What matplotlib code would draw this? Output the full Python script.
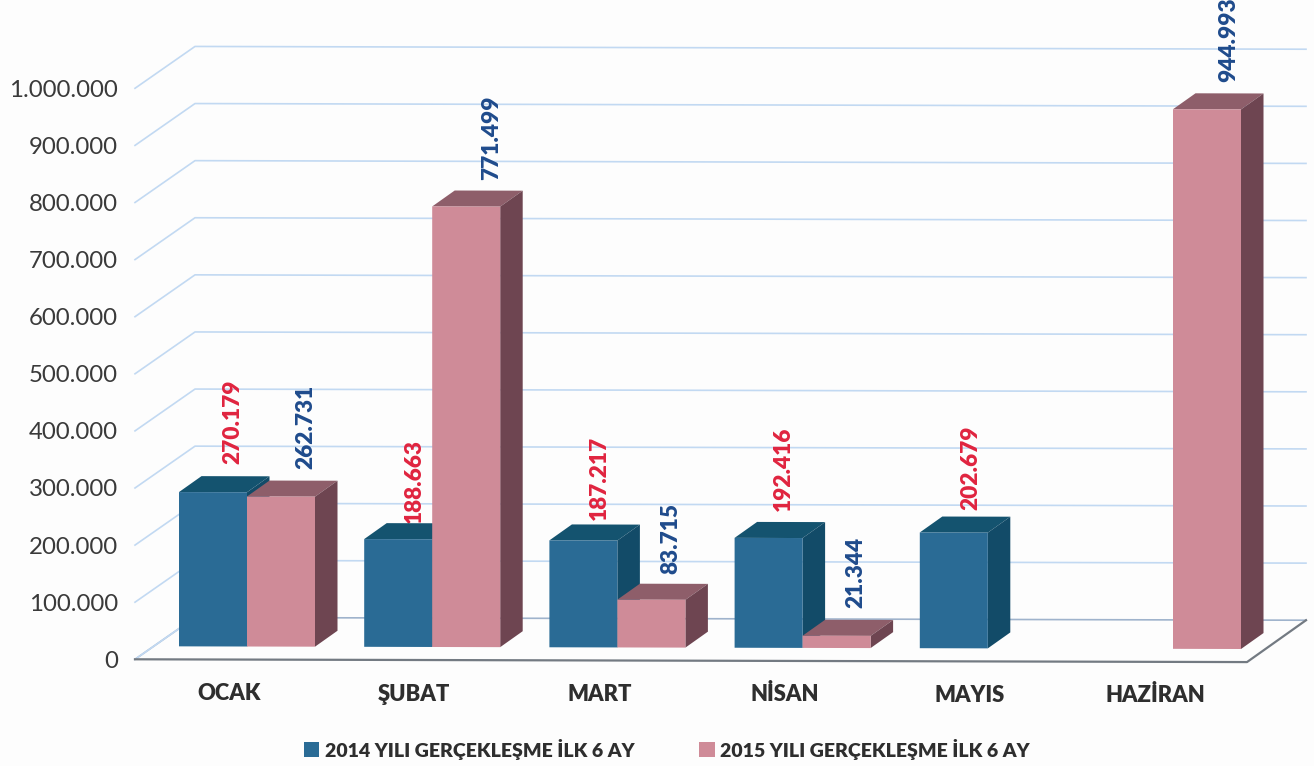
import numpy as np
import matplotlib
matplotlib.use("Agg")
import matplotlib.pyplot as plt
from matplotlib.transforms import Affine2D

plt.rcParams['font.family'] = ['Lato', 'DejaVu Sans']

months = ['OCAK', 'ŞUBAT', 'MART', 'NİSAN', 'MAYIS', 'HAZİRAN']
values_2014 = [270179, 188663, 187217, 192416, 202679, 0]
values_2015 = [262731, 771499, 83715, 21344, 0, 944993]
ticks = list(range(0, 1000001, 100000))
series_2014 = '2014 YILI GERÇEKLEŞME İLK 6 AY'
series_2015 = '2015 YILI GERÇEKLEŞME İLK 6 AY'

# label nudges in pixels, the original placed these by hand
offs_2014 = [(20, 28), (16, 16), (16, 20), (15, 27), (17, 23), (0, 0)]
offs_2015 = [(25, 28), (25, 27), (19, 26), (19, 28), (0, 0), (22, 27)]

W, H = 1314, 766
px_x = 185.2             # pixels per category
px_y = 0.000571          # pixels per unit
x0_px, y0_px = 247, 645.9

fig = plt.figure(figsize=(W / 100, H / 100), dpi=100, facecolor='#fdfdfd')
ax = fig.add_axes([0, 0, 1, 1])
ax.set_xlim(-x0_px / px_x, (W - x0_px) / px_x)
ax.set_ylim(-(H - y0_px) / px_y, y0_px / px_y)
ax.axis('off')

# the scan is slightly rotated, lines run downhill to the right
tr = ax.transData + Affine2D().skew(0, -0.0025)

bar_w = 68 / px_x
dx, dy = 22.5 / px_x, 16 / px_y

# walls and floor
wall_x0 = -112 / px_x
wall_x1 = wall_x0 + 60 / px_x
wall_dy = 42 / px_y
floor_v = -13.06 / px_y
right_x0 = wall_x0 + 1112 / px_x
right_x1 = wall_x1 + 1111 / px_x

for t in ticks:
    v = floor_v + t
    c = '#9fb3cc' if t == 0 else '#c2d9f2'
    ax.plot([wall_x0, wall_x1, right_x1], [v, v + wall_dy, v + wall_dy], color=c,
            lw=1.2, transform=tr, zorder=1)
    ax.annotate(f'{t:,}'.replace(',', '.'), (wall_x0, v), xycoords=tr, xytext=(-17, -2),
                textcoords='offset pixels', ha='right', va='center', fontsize=17.3, color='#3a3a3a')
ax.plot([wall_x0, wall_x1], [floor_v, floor_v + wall_dy], color='#c2d9f2', lw=1.2, transform=tr, zorder=1)
ax.plot([wall_x0, right_x0, right_x1], [floor_v, floor_v, floor_v + wall_dy],
        color='#737a82', lw=1.6, transform=tr, zorder=2)


def draw_bars(xs, vals, front, top, side, label, z):
    for x, v in zip(xs, vals):
        if v == 0:
            continue
        l, r = x - bar_w / 2, x + bar_w / 2
        ax.fill([l, r, r + dx, l + dx], [v, v, v + dy, v + dy], color=top, lw=0, transform=tr, zorder=z)
        ax.fill([r, r + dx, r + dx, r], [0, dy, v + dy, v], color=side, lw=0, transform=tr, zorder=z)
    return ax.bar(xs, vals, bar_w, color=front, transform=tr, zorder=z, label=label)


pos = np.arange(len(months))
x_2014 = pos - bar_w / 2
x_2015 = pos + bar_w / 2

bars_a = draw_bars(x_2014, values_2014, '#2a6b95', '#14536f', '#124b68', series_2014, 3)
bars_b = draw_bars(x_2015, values_2015, '#cf8b98', '#8e5e6a', '#6e4551', series_2015, 4)


def draw_labels(xs, vals, offs, color, z):
    for x, v, o in zip(xs, vals, offs):
        if v == 0:
            continue
        ax.annotate(f'{v:,}'.replace(',', '.'), (x, v), xycoords=tr, xytext=o,
                    textcoords='offset pixels', rotation=90, ha='center', va='bottom',
                    fontsize=16.3, fontweight='heavy', color=color, zorder=z)


draw_labels(x_2014, values_2014, offs_2014, '#e0243f', 2.5)
draw_labels(x_2015, values_2015, offs_2015, '#1f4b8c', 5)

for p, m in zip(pos, months):
    ax.annotate(m, (p, floor_v), xycoords=tr, xytext=(-18, -34), textcoords='offset pixels',
                ha='center', va='center', fontsize=15.8, fontweight='heavy', color='#2e2e2e')

fig.legend(handles=[bars_a, bars_b], loc='center', bbox_to_anchor=(667 / W, 1 - 749 / H), ncol=2,
           frameon=False, handlelength=0.8, handleheight=0.8, handletextpad=0.3,
           columnspacing=3.3, labelcolor='#2e2e2e', prop={'weight': 'heavy', 'size': 14.0})

fig.savefig('out.png', dpi=100, facecolor=fig.get_facecolor())
